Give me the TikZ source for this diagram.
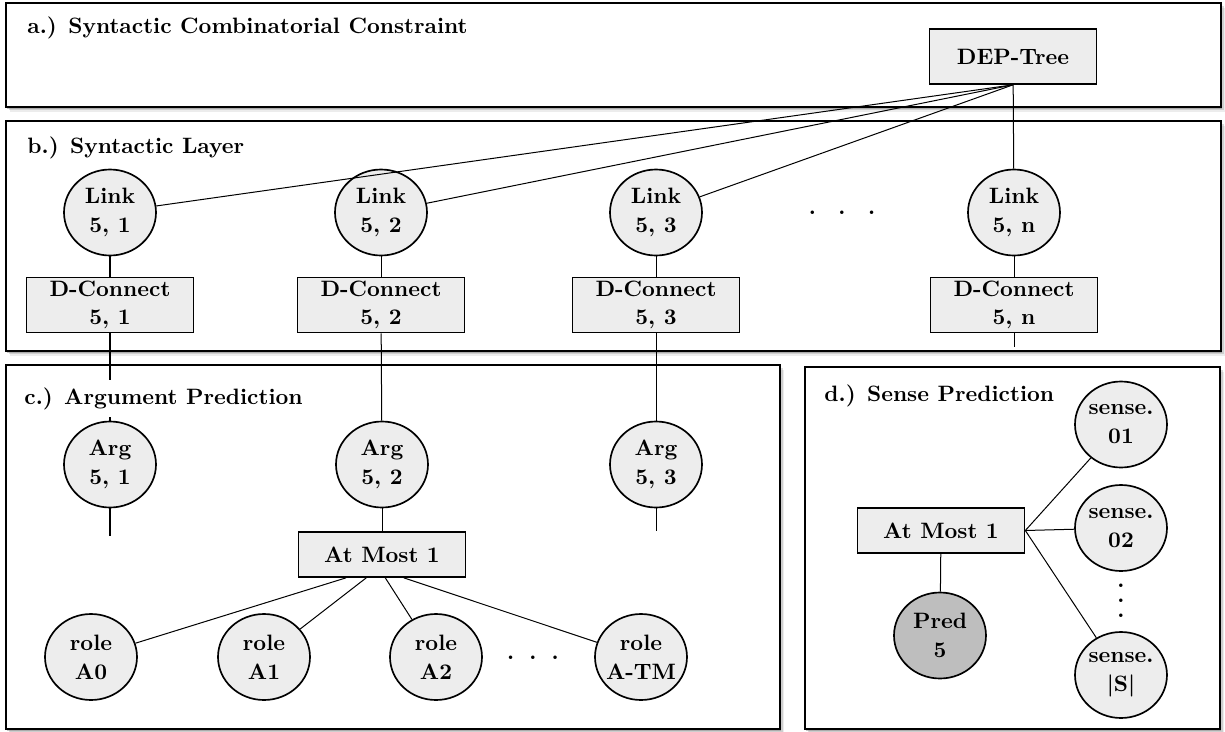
\documentclass[tikz,border=0pt]{standalone}
\usepackage{tikz}
\usetikzlibrary{positioning,shapes.geometric,shadows}
\definecolor{nodefill}{HTML}{EDEDED}
\definecolor{predfill}{HTML}{BEBEBE}
\newcommand{\pxu}{0.0158cm}

\begin{document}
\begin{tikzpicture}[
  x=\pxu, y=-\pxu,
  font=\bfseries,
  panel/.style={draw, fill=white, line width=0.6pt,
    drop shadow={shadow xshift=0.5pt, shadow yshift=-0.7pt, opacity=0.45},
    drop shadow={shadow xshift=1.2pt, shadow yshift=-1.5pt, opacity=0.28},
    drop shadow={shadow xshift=2pt, shadow yshift=-2.4pt, opacity=0.15}},
  title/.style={anchor=base west, fill=white, inner xsep=0pt},
  unit/.style={draw, ellipse, line width=0.75pt, fill=nodefill, align=center,
    minimum width=92*\pxu, minimum height=86*\pxu, inner xsep=-1.2pt, inner ysep=0pt},
  box/.style={draw, line width=0.75pt, fill=nodefill, align=center,
    minimum width=167*\pxu, minimum height=55*\pxu, inner ysep=1pt},
  flat/.style={box, minimum height=45*\pxu},
  link/.style={line width=0.45pt}
]
\useasboundingbox (0,0) rectangle (1225,732);

% panels
\draw[panel] (6,3) rectangle (1221,107);
\draw[panel] (6,121) rectangle (1221,351);
\draw[panel] (6,365) rectangle (780,729);
\draw[panel] (805,367) rectangle (1220,729);

% a.) and b.)
\node[box] (dep) at (1013,56.5) {DEP-Tree};
\node[unit] (l1) at (110,212.5) {Link\\[1pt]5, 1};
\node[unit] (l2) at (381,212.5) {Link\\[1pt]5, 2};
\node[unit] (l3) at (656,212.5) {Link\\[1pt]5, 3};
\node[unit] (ln) at (1014,212.5) {Link\\[1pt]5, n};
\node[box, below=0.32cm of l1] (d1) {D-Connect\\[1pt]5, 1};
\node[box, below=0.32cm of l2] (d2) {D-Connect\\[1pt]5, 2};
\node[box, below=0.32cm of l3] (d3) {D-Connect\\[1pt]5, 3};
\node[box, below=0.32cm of ln] (dn) {D-Connect\\[1pt]5, n};
\node[anchor=base] (dotsb) at (842,214) {.\hspace{10.1pt}.\hspace{10.1pt}.};
\coordinate (dnend) at (1014,347);

% c.)
\node[unit] (a1) at (110,464.5) {Arg\\[1pt]5, 1};
\node[unit] (a2) at (382,464.5) {Arg\\[1pt]5, 2};
\node[unit] (a3) at (656,464.5) {Arg\\[1pt]5, 3};
\coordinate (a1end) at (110,536);
\coordinate (a3end) at (656,531);
\node[flat] (am1) at (382,554.5) {At Most 1};
\node[unit] (r0) at (91,657) {role\\[1pt]A0};
\node[unit] (r1) at (264,657) {role\\[1pt]A1};
\node[unit] (r2) at (436,657) {role\\[1pt]A2};
\node[unit] (rtm) at (641,657) {role\\[1pt]A-TM};
\node[anchor=base] (dotsc) at (533,659) {.\hspace{6.8pt}.\hspace{6.8pt}.};

% d.)
\node[flat] (am2) at (941,530.5) {At Most 1};
\node[unit, fill=predfill] (pred) at (940,635.5) {Pred\\[1pt]5};
\node[unit] (s1) at (1121,424.5) {sense.\\[1pt]01};
\node[unit] (s2) at (1121,528) {sense.\\[1pt]02};
\node[unit] (ss) at (1121,675) {sense.\\[1pt]|S|};
\node[align=center, font=\fontsize{10}{6.75}\selectfont\bfseries] (dotsd) at (1121,601) {.\\.\\.};

% edges
\draw[link] (dep.south) -- (l1);
\draw[link] (dep.south) -- (l2);
\draw[link] (dep.south) -- (l3);
\draw[link] (dep) -- (ln);
\draw[link] (l1) -- (d1);
\draw[link] (l2) -- (d2);
\draw[link] (l3) -- (d3);
\draw[link] (ln) -- (dn);
\draw[link] (d1) -- (a1);
\draw[link] (d2) -- (a2);
\draw[link] (d3) -- (a3);
\draw[link] (dn) -- (dnend);
\draw[link] (a1) -- (a1end);
\draw[link] (a3) -- (a3end);
\draw[link] (a2) -- (am1);
\draw[link] (am1.213) -- (r0);
\draw[link] (am1.236) -- (r1);
\draw[link] (am1.278) -- (r2);
\draw[link] (am1.313) -- (rtm);
\draw[link] (am2) -- (pred);
\draw[link] (am2.east) -- (s1);
\draw[link] (am2.east) -- (s2);
\draw[link] (am2.east) -- (ss);

% titles
\node[title] (ta) at (27,33) {a.) Syntactic Combinatorial Constraint};
\node[title] (tb) at (27,153) {b.) Syntactic Layer};
\node[title] (tc) at (24,404) {c.) Argument Prediction};
\node[title] (td) at (824,401) {d.) Sense Prediction};
\end{tikzpicture}
\end{document}
